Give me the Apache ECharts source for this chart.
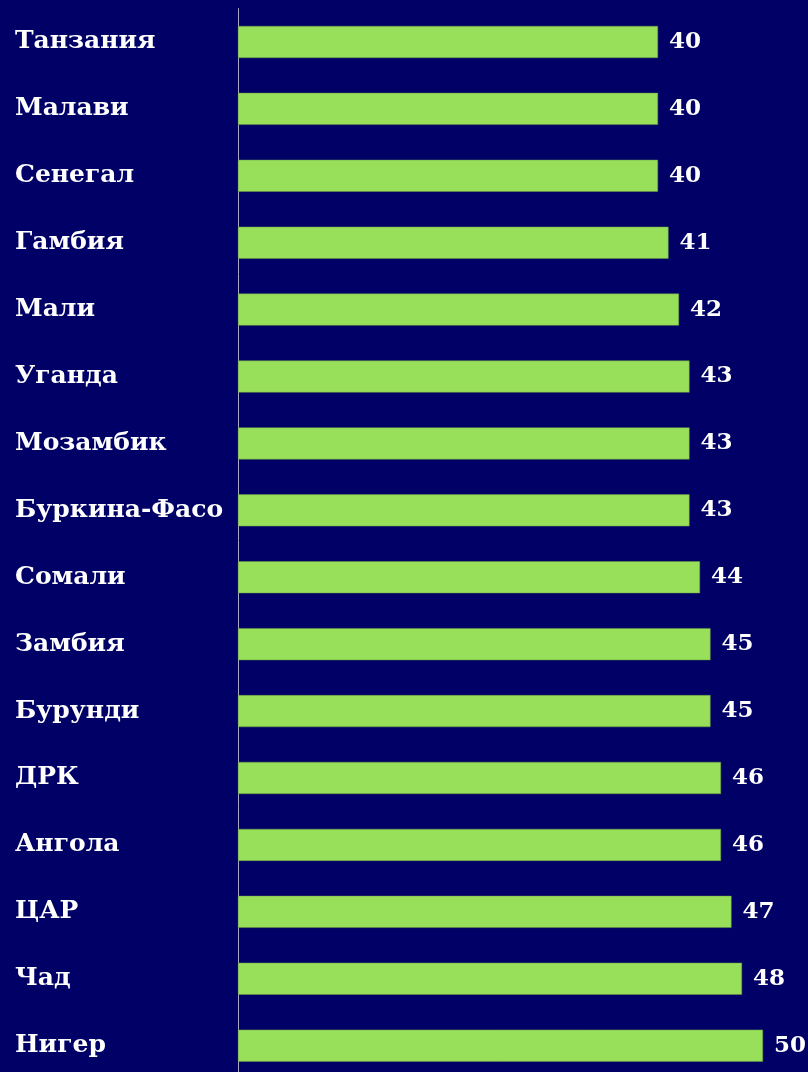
<!DOCTYPE html>
<html>
<head>
<meta charset="utf-8">
<title>Страны</title>
<script src="https://cdn.jsdelivr.net/npm/echarts@6/dist/echarts.min.js"></script>
<style>
html, body { margin: 0; padding: 0; background: #000066; }
#chart { width: 808px; height: 1072px; }
</style>
</head>
<body>
<div id="chart"></div>
<script>
// страны сверху вниз
var countries = ['Танзания', 'Малави', 'Сенегал', 'Гамбия', 'Мали', 'Уганда', 'Мозамбик',
    'Буркина-Фасо', 'Сомали', 'Замбия', 'Бурунди', 'ДРК', 'Ангола', 'ЦАР', 'Чад', 'Нигер'];
var values = [40, 40, 40, 41, 42, 43, 43, 43, 44, 45, 45, 46, 46, 47, 48, 50];

var chart = echarts.init(document.getElementById('chart'));
var option = {
    backgroundColor: '#000066',
    animation: false,
    grid: { left: 238, top: 8.5, width: 525, height: 1070.6, outerBoundsMode: 'none' },
    xAxis: {
        type: 'value', min: 0, max: 50,
        show: false
    },
    yAxis: {
        type: 'category',
        data: countries,
        inverse: true,
        axisLine: { lineStyle: { color: '#a8a8c8', width: 1 } },
        axisTick: { show: false },
        axisLabel: {
            margin: 223,
            align: 'left',
            color: '#ffffff',
            fontFamily: 'DejaVu Serif',
            fontWeight: 'bold',
            fontSize: 25
        }
    },
    series: [{
        type: 'bar',
        data: values,
        barWidth: 32,
        itemStyle: { color: '#99e05a', borderColor: '#6a9a40', borderWidth: 0.5 },
        label: {
            show: true,
            position: 'right',
            distance: 11,
            color: '#ffffff',
            fontFamily: 'DejaVu Serif',
            fontWeight: 'bold',
            fontSize: 23
        }
    }]
};
chart.setOption(option);
</script>
</body>
</html>
